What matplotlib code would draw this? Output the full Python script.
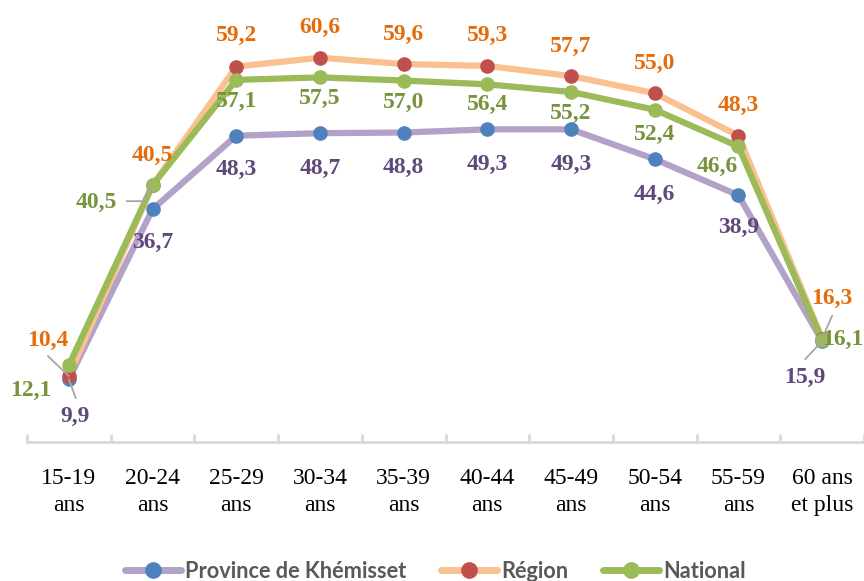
import numpy as np
import matplotlib.pyplot as plt
from matplotlib.lines import Line2D

categories = ['15-19\nans', '20-24\nans', '25-29\nans', '30-34\nans', '35-39\nans',
              '40-44\nans', '45-49\nans', '50-54\nans', '55-59\nans', '60 ans\net plus']
province = [9.9, 36.7, 48.3, 48.7, 48.8, 49.3, 49.3, 44.6, 38.9, 15.9]
region = [10.4, 40.5, 59.2, 60.6, 59.6, 59.3, 57.7, 55.0, 48.3, 16.3]
national = [12.1, 40.5, 57.1, 57.5, 57.0, 56.4, 55.2, 52.4, 46.6, 16.1]
series_names = ['Province de Khémisset', 'Région', 'National']

# label offsets in pixels from the marker (dx, dy)
off_prov = [(6, -37), (0, -33), (0, -34), (0, -35), (0, -35), (0, -35), (0, -35), (0, -35), (0, -32), (-17, -36)]
off_reg = [(-21, 36), (0, 30), (0, 31), (0, 30), (0, 30), (0, 30), (0, 30), (0, 30), (0, 30), (10, 40)]
off_nat = [(-38, -25), (-56, -17), (0, -22), (0, -21), (0, -22), (0, -20), (0, -22), (0, -25), (-21, -20), (21, 0)]

styles = [
    dict(line='#b3a2c7', marker='#4f81bd', text='#5f497a'),
    dict(line='#fac090', marker='#c0504d', text='#e46c0a'),
    dict(line='#9bbb59', marker='#9bbb59', text='#77933c'),
]

fig = plt.figure(figsize=(8.64, 5.81), dpi=100)
ax = fig.add_axes([27 / 864, 1 - 442 / 581, 1 - 27 / 864, 442 / 581])

x = np.arange(len(categories))
handles = []
for vals, st, name in zip([province, region, national], styles, series_names):
    ax.plot(x, vals, color=st['line'], lw=4.5, solid_capstyle='round', zorder=2)
    ax.plot(x, vals, ls='none', marker='o', ms=9.5, color=st['marker'], zorder=3)
    handles.append(Line2D([0], [0], color=st['line'], lw=5, marker='o', ms=11,
                          markerfacecolor=st['marker'], markeredgecolor=st['marker'],
                          solid_capstyle='round'))

def lab(v):
    return f'{v:.1f}'.replace('.', ',')

for vals, offs, st in zip([province, region, national], [off_prov, off_reg, off_nat], styles):
    for i, v in enumerate(vals):
        ax.annotate(lab(v), (x[i], v), xytext=offs[i], textcoords='offset pixels',
                    ha='center', va='center', fontsize=17, fontweight='bold',
                    family='Liberation Serif', color=st['text'], zorder=5)

# leader lines
arrow = dict(arrowstyle='-', color='#a6a6a6', lw=1.3, shrinkA=0, shrinkB=0)
ax.annotate('', (x[0], province[0]), xytext=(7, -19), textcoords='offset pixels', arrowprops=arrow)
ax.annotate('', (x[0], region[0]), xytext=(-21, 20), textcoords='offset pixels', arrowprops=arrow)
ax.annotate('', (x[1], national[1]), xytext=(-26, -16), textcoords='offset pixels',
            arrowprops=dict(arrow, connectionstyle='angle,angleA=0,angleB=60,rad=0'))
ax.annotate('', (x[9], region[9]), xytext=(10, 23), textcoords='offset pixels', arrowprops=arrow)
ax.annotate('', (x[9], province[9]), xytext=(-17, -18), textcoords='offset pixels', arrowprops=arrow)

ax.set_xlim(-0.5, len(categories) - 0.5)
ax.set_ylim(0, 69.7)
ax.set_yticks([])
for s in ['top', 'right', 'left']:
    ax.spines[s].set_visible(False)
ax.spines['bottom'].set_color('#d9d9d9')
ax.spines['bottom'].set_linewidth(2)
ax.set_xticks(x)
ax.set_xticklabels(categories, family='Liberation Serif', fontsize=17, color='black',
                   linespacing=1.32)
ax.tick_params(axis='x', which='major', length=0, pad=19)
ax.set_xticks(np.arange(len(categories) + 1) - 0.5, minor=True)
ax.tick_params(axis='x', which='minor', direction='in', length=6, width=2, color='#d9d9d9')
ax.patch.set_alpha(0)

fig.legend(handles, series_names, loc='center', bbox_to_anchor=(435.5 / 864, 1 - 571 / 581),
           ncol=3, frameon=False, handlelength=2.55, handletextpad=0.2, columnspacing=1.6,
           borderpad=0, prop=dict(family='Lato', weight='bold', size=15.7), labelcolor='#595959')

fig.savefig('out.png', dpi=100)
